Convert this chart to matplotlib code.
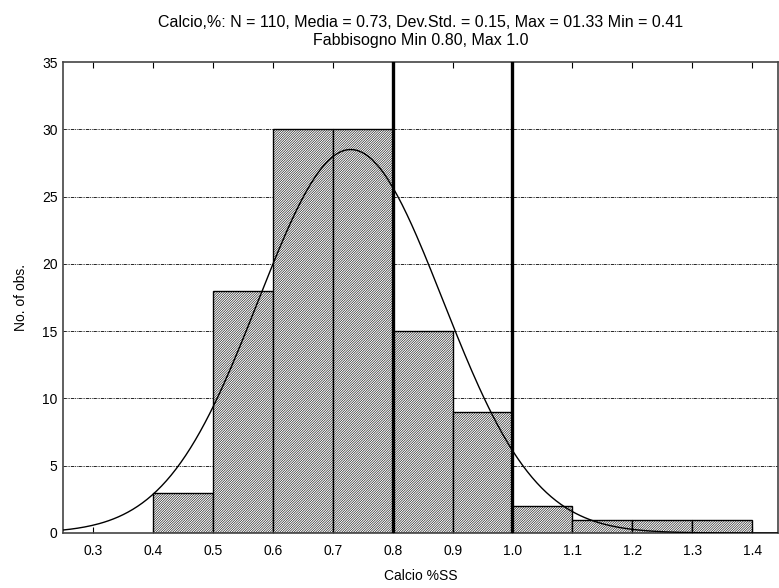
import numpy as np
import matplotlib.pyplot as plt

plt.rcParams['font.family'] = ['Liberation Sans', 'DejaVu Sans']
plt.rcParams['hatch.linewidth'] = 0.4
plt.rcParams['hatch.color'] = '#666666'

# histogram of Calcio %SS
bin_left = [0.4, 0.5, 0.6, 0.7, 0.8, 0.9, 1.0, 1.1, 1.2, 1.3]
counts = [3, 18, 30, 30, 15, 9, 2, 1, 1, 1]
bin_width = 0.1
n_obs = 110
fit_mean = 0.73
fit_sd = 0.154
need_min = 0.8
need_max = 1.0

fig = plt.figure(figsize=(7.79, 5.88), dpi=100)
ax = fig.add_axes([63/779, 1-533/588, (778-63)/779, (533-62)/588])

ax.bar(bin_left, counts, width=bin_width, align='edge', color='white',
       edgecolor='black', linewidth=1.0, hatch='/'*14, zorder=2)

xs = np.linspace(0.25, 1.45, 300)
ys = n_obs * bin_width / (fit_sd * np.sqrt(2*np.pi)) * np.exp(-0.5*((xs-fit_mean)/fit_sd)**2)
ax.plot(xs, ys, color='black', linewidth=1.0, zorder=3)

ax.axvline(need_min, color='black', linewidth=2.4, zorder=4)
ax.axvline(need_max, color='black', linewidth=2.4, zorder=4)

ax.set_xlim(0.25, 1.443)
ax.set_ylim(0, 35)
ax.set_xticks(np.arange(0.3, 1.41, 0.1))
ax.set_xticklabels(['0.3', '0.4', '0.5', '0.6', '0.7', '0.8', '0.9', '1.0', '1.1', '1.2', '1.3', '1.4'])
ax.set_yticks(range(0, 36, 5))
ax.tick_params(axis='x', direction='in', top=True, length=4, labelsize=10, pad=8)
ax.tick_params(axis='y', length=0, labelsize=10, pad=4)
for y in range(5, 35, 5):
    ax.axhline(y, color='black', linewidth=0.6, linestyle=(0, (4, 1, 1, 1, 1, 1)), zorder=1)
for s in ax.spines.values():
    s.set_linewidth(1.2)
    s.set_color('#444444')

ax.set_xlabel('Calcio %SS', fontsize=10, labelpad=8)
ax.set_ylabel('No. of obs.', fontsize=10, labelpad=10)
ax.set_title('Calcio,%: N = 110, Media = 0.73, Dev.Std. = 0.15, Max = 01.33 Min = 0.41\n'
             'Fabbisogno Min 0.80, Max 1.0', fontsize=11.5, pad=12, linespacing=1.3)

fig.savefig('out.png', dpi=100)
